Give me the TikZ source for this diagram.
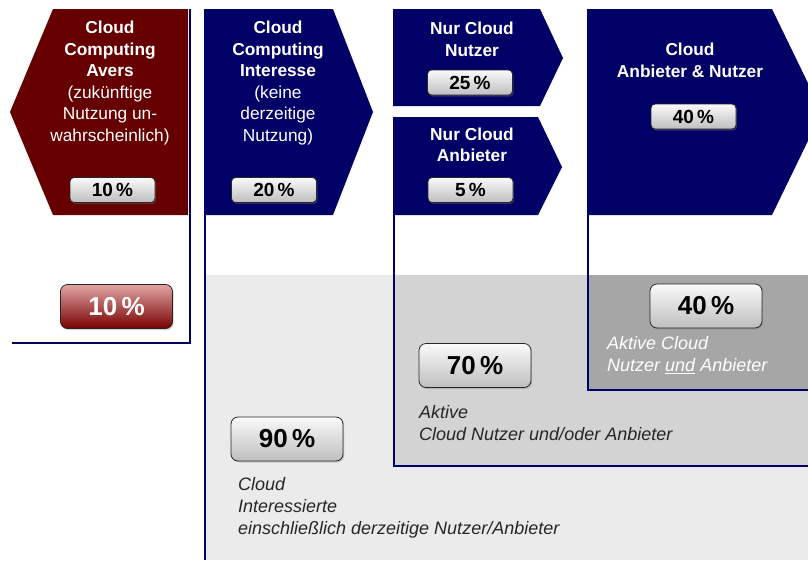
\documentclass[tikz,border=0pt]{standalone}
\usepackage{fontspec}
\setmainfont{Liberation Sans}
\usetikzlibrary{shadows}
\definecolor{navy}{RGB}{0,0,102}
\definecolor{avers}{RGB}{102,0,0}
\definecolor{bglight}{RGB}{235,235,235}
\definecolor{bgmid}{RGB}{211,211,211}
\definecolor{bgdark}{RGB}{166,166,166}
\definecolor{btntop}{RGB}{250,250,250}
\definecolor{btnbot}{RGB}{190,190,190}
\definecolor{redtop}{RGB}{225,165,165}
\definecolor{redbot}{RGB}{120,0,0}
\tikzset{
  frameline/.style={draw=navy, line width=2pt},
  pctbox/.style={draw=black!85, line width=0.8pt, rounded corners=4pt,
    top color=btntop, bottom color=btnbot, inner sep=0pt,
    drop shadow={shadow xshift=1.2pt, shadow yshift=-1.5pt, opacity=0.35},
    font=\bfseries\fontsize{19}{22}\selectfont, text=black,
    minimum width=85pt, minimum height=25pt},
  bigbox/.style={pctbox, rounded corners=7pt, minimum width=112pt, minimum height=44pt,
    font=\bfseries\fontsize{26}{30}\selectfont},
  redbox/.style={bigbox, top color=redtop, bottom color=redbot, text=white},
  headtext/.style={text=white, align=center, inner sep=0pt,
    font=\fontsize{17.3}{21.5}\selectfont},
  notetext/.style={align=left, inner sep=0pt, anchor=north west,
    font=\itshape\fontsize{18}{22}\selectfont, text=black!85},
}
\begin{document}
\begin{tikzpicture}[x=1pt,y=-1pt]
\useasboundingbox (0,0) rectangle (808,560);
\clip (0,0) rectangle (808,560);

% nested grey areas
\fill[bglight] (205,275) rectangle (808,560);
\fill[bgmid]   (394,275) rectangle (808,466);
\fill[bgdark]  (588,275) rectangle (808,390);

% frame lines
\draw[frameline] (190,9) -- (190,343) -- (12,343);
\draw[frameline] (205,9) -- (205,560);
\draw[frameline] (394,200) -- (394,466) -- (808,466);
\draw[frameline] (588,200) -- (588,390) -- (808,390);

% chevron shapes
\fill[avers] (53,9) -- (188,9) -- (188,215) -- (53,215) -- (10,112) -- cycle;
\fill[navy] (204,9) -- (333,9) -- (373,112) -- (333,215) -- (204,215) -- cycle;
\fill[navy] (393,9) -- (540,9) -- (563,58) -- (540,106) -- (393,106) -- cycle;
\fill[navy] (393,117) -- (538,117) -- (562,167) -- (538,215) -- (393,215) -- cycle;
\fill[navy] (587,9) -- (772,9) -- (822,112) -- (772,215) -- (587,215) -- cycle;

% headings
\node[headtext] (hAvers) at (110,83) {\textbf{Cloud}\\\textbf{Computing}\\\textbf{Avers}\\(zukünftige\\Nutzung un-\\wahrscheinlich)};
\node[headtext] (hInt) at (278,83) {\textbf{Cloud}\\\textbf{Computing}\\\textbf{Interesse}\\(keine\\derzeitige\\Nutzung)};
\node[headtext, font=\bfseries\fontsize{17.3}{21.5}\selectfont] (hNutzer) at (472,39.5) {Nur Cloud\\Nutzer};
\node[headtext, font=\bfseries\fontsize{17.3}{21.5}\selectfont] (hAnb) at (472,145) {Nur Cloud\\Anbieter};
\node[headtext, font=\bfseries\fontsize{17.3}{21.5}\selectfont] (hBoth) at (690,60.5) {Cloud\\Anbieter \& Nutzer};

% small percentage buttons
\node[pctbox] (pAvers) at (112.5,190) {10\,\%};
\node[pctbox] (pInt) at (274,190) {20\,\%};
\node[pctbox] (pNutzer) at (470,82.5) {25\,\%};
\node[pctbox] (pAnb) at (470.5,190) {5\,\%};
\node[pctbox] (pBoth) at (693.5,116.5) {40\,\%};

% large percentage buttons
\node[redbox] (bAvers) at (116.5,306.5) {10\,\%};
\node[bigbox] (bInt) at (287,439) {90\,\%};
\node[bigbox] (bAktiv) at (475,365.5) {70\,\%};
\node[bigbox] (bBoth) at (706,306) {40\,\%};

% captions
\node[notetext, text=white] (tBoth) at (607,336) {Aktive Cloud\\Nutzer \underline{und} Anbieter};
\node[notetext] (tAktiv) at (419,405) {Aktive\\Cloud Nutzer und/oder Anbieter};
\node[notetext] (tInt) at (238,477) {Cloud\\Interessierte\\einschließlich derzeitige Nutzer/Anbieter};
\end{tikzpicture}
\end{document}
